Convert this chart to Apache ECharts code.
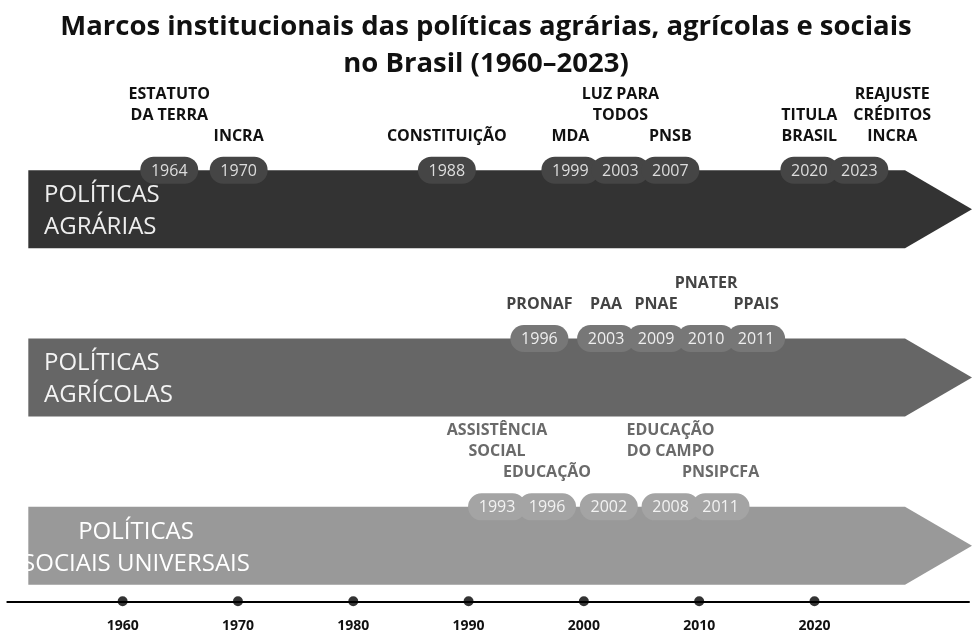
<!DOCTYPE html>
<html><head><meta charset="utf-8">
<script src="https://cdn.jsdelivr.net/npm/echarts@6/dist/echarts.min.js"></script>
<style>html,body{margin:0;padding:0;background:#fff}#c{width:972px;height:631px}</style>
</head><body><div id="c"></div>
<script>
// ---------- DATA ----------
const titleText = "Marcos institucionais das políticas agrárias, agrícolas e sociais\nno Brasil (1960–2023)";
const rowLabels = ["POLÍTICAS\nAGRÁRIAS", "POLÍTICAS\nAGRÍCOLAS", "POLÍTICAS\nSOCIAIS UNIVERSAIS"];

const agrariasYears = [1964, 1970, 1988, 1999, 2003, 2007, 2020, 2023];
const agrariasNames = ["ESTATUTO\nDA TERRA", "INCRA", "CONSTITUIÇÃO", "MDA", "LUZ PARA\nTODOS", "PNSB", "TITULA\nBRASIL", "REAJUSTE\nCRÉDITOS\nINCRA"];

const agricolasYears = [1996, 2003, 2009, 2010, 2011];
const agricolasNames = ["PRONAF", "PAA", "PNAE", "PNATER", "PPAIS"];

const sociaisYears = [1993, 1996, 2002, 2008, 2011];
const sociaisNames = ["ASSISTÊNCIA\nSOCIAL", "EDUCAÇÃO", "", "EDUCAÇÃO\nDO CAMPO", "PNSIPCFA"];

const axisYears = [1960, 1970, 1980, 1990, 2000, 2010, 2020];

// ---------- STYLE ----------
const FONT = "'Open Sans', sans-serif";
const arrowColors = ['#333333', '#666666', '#999999'];
const pillColors = ['#454545', '#777777', '#a4a4a4'];
const pillTextColors = ['#dddddd', '#eeeeee', '#f2f2f2'];
const nameColors = ['#111111', '#444444', '#6a6a6a'];
const rowTextColors = ['#eeeeee', '#f4f4f4', '#ffffff'];
const rowTextAlign = ['left', 'left', 'center'];
const ARROW_H = 78;
const PILL_W = 58, PILL_H = 27, PILL_SEP = 50;
const NAME_SIZE = 16, NAME_LH = 21, NAME_GAP = 10, NAME_VGAP = 0, NAME_PAD = 5, NAME_HPAD = 16;

const eventRows = [
  { years: agrariasYears, names: agrariasNames },
  { years: agricolasYears, names: agricolasNames },
  { years: sociaisYears, names: sociaisNames }
];

const measureCtx = document.createElement('canvas').getContext('2d');
function textWidth(str) {
  measureCtx.font = 'bold ' + NAME_SIZE + 'px ' + FONT;
  return Math.max.apply(null, str.split('\n').map(s => measureCtx.measureText(s).width));
}

// spread overlapping pills apart (keeps each group centred on its years)
function spread(xs, sep) {
  let groups = xs.map(x => ({ n: 1, sum: x }));
  const first = g => g.sum / g.n - (g.n - 1) * sep / 2;
  let changed = true;
  while (changed) {
    changed = false;
    for (let k = 0; k < groups.length - 1; k++) {
      const a = groups[k], b = groups[k + 1];
      if (first(a) + a.n * sep > first(b) + 0.01) {
        a.n += b.n; a.sum += b.sum; groups.splice(k + 1, 1); changed = true; break;
      }
    }
  }
  const out = [];
  groups.forEach(g => { const p = first(g); for (let j = 0; j < g.n; j++) out.push(p + j * sep); });
  return out;
}

function layoutRow(api, rowIdx) {
  const row = eventRows[rowIdx];
  const raw = row.years.map(y => api.coord([y, rowIdx]));
  const cy = raw[0][1];
  const bandH = api.size([0, 1])[1];
  const xs = spread(raw.map(p => p[0]), PILL_SEP);
  const base = cy - PILL_H / 2 - NAME_GAP;
  const prevArrowBottom = cy - bandH + ARROW_H;
  const limit = rowIdx === 0 ? cy - bandH / 2 - 12 : prevArrowBottom - 2;
  const boxes = row.names.map((n, i) => {
    const lines = n ? n.split('\n').length : 0;
    return { i, n, lines, w: n ? textWidth(n) : 0, h: lines * NAME_LH, cx: xs[i] };
  });
  const order = boxes.filter(b => b.n).sort((a, b) => a.lines - b.lines || a.cx - b.cx);
  const placed = [];
  order.forEach(b => {
    let l = b.cx - b.w / 2, r = b.cx + b.w / 2, bottom = base, guard = 0;
    while (guard++ < 60) {
      const top = bottom - b.h;
      const c = placed.find(p => l < p.r + NAME_PAD && p.l < r + NAME_PAD && top < p.bottom + NAME_VGAP && p.top < bottom + NAME_VGAP);
      if (!c) break;
      const nb = c.top - NAME_VGAP;
      if (nb - b.h < limit) {
        bottom = base;
        const s = c.r + NAME_HPAD - l; l += s; r += s;
      } else bottom = nb;
    }
    b.l = l; b.r = r; b.bottom = bottom; b.top = bottom - b.h;
    placed.push(b);
  });
  return { xs, cy, boxes };
}

function eventSeries(rowIdx) {
  return {
    type: 'custom',
    xAxisIndex: 0, yAxisIndex: 0,
    encode: { x: 0, y: 1 },
    data: eventRows[rowIdx].years.map(y => [y, rowIdx]),
    renderItem: function (params, api) {
      const L = layoutRow(api, rowIdx);
      const i = params.dataIndex;
      const x = L.xs[i], b = L.boxes[i];
      const children = [
        { type: 'rect', shape: { x: x - PILL_W / 2, y: L.cy - PILL_H / 2, width: PILL_W, height: PILL_H, r: PILL_H / 2 },
          style: { fill: pillColors[rowIdx] } },
        { type: 'text', style: { text: String(eventRows[rowIdx].years[i]), x: x, y: L.cy + 1, align: 'center', verticalAlign: 'middle',
          fontSize: 16, fontFamily: FONT, fill: pillTextColors[rowIdx] } }
      ];
      if (b.n) {
        children.push({ type: 'text', style: { text: b.n, x: (b.l + b.r) / 2, y: b.bottom, align: 'center', verticalAlign: 'bottom',
          fontSize: NAME_SIZE, fontWeight: 'bold', fontFamily: FONT, lineHeight: NAME_LH, fill: nameColors[rowIdx] } });
      }
      return { type: 'group', children };
    }
  };
}

const chart = echarts.init(document.getElementById('c'));
chart.setOption({
  animation: false,
  backgroundColor: '#ffffff',
  title: {
    text: titleText, left: 'center', top: 4,
    textStyle: { fontFamily: FONT, fontSize: 27.5, fontWeight: 'bold', color: '#111111', lineHeight: 37 }
  },
  grid: [
    { left: 7.33, right: 0, top: 86, bottom: 40 },
    { left: 7.33, right: 0, top: 601, height: 1 }
  ],
  xAxis: [
    { type: 'value', gridIndex: 0, min: 1950, max: 2033.4, show: false },
    { type: 'value', gridIndex: 1, min: 1950, max: 2033.4, interval: 10,
      axisLine: { show: true, lineStyle: { color: '#000000', width: 2 } },
      axisTick: { show: false }, splitLine: { show: false },
      axisLabel: { formatter: v => axisYears.indexOf(v) >= 0 ? String(v) : '', margin: 18,
        fontFamily: FONT, fontWeight: 'bold', fontSize: 14, color: '#111111', showMinLabel: true, showMaxLabel: true } }
  ],
  yAxis: [
    { type: 'category', gridIndex: 0, data: rowLabels, inverse: true, show: false },
    { type: 'value', gridIndex: 1, min: 0, max: 1, show: false }
  ],
  series: [
    {
      type: 'custom', xAxisIndex: 0, yAxisIndex: 0,
      encode: { y: 0 },
      data: rowLabels.map((_, i) => [i]),
      renderItem: function (params, api) {
        const i = params.dataIndex;
        const cs = params.coordSys;
        const top = api.coord([1950, i])[1];
        const bottom = top + ARROW_H;
        const mid = (top + bottom) / 2;
        const L = cs.x + 21, B = cs.x + cs.width - 67, T = cs.x + cs.width;
        const align = rowTextAlign[i];
        return {
          type: 'group', children: [
            { type: 'polygon', shape: { points: [[L, top], [B, top], [T, mid], [B, bottom], [L, bottom]] },
              style: { fill: arrowColors[i] } },
            { type: 'text', style: { text: rowLabels[i], x: align === 'left' ? 44 : 136, y: mid + 2, align: align, verticalAlign: 'middle',
              fontSize: 24, lineHeight: 32, fontFamily: FONT, fill: rowTextColors[i] } }
          ]
        };
      }
    },
    eventSeries(0), eventSeries(1), eventSeries(2),
    {
      type: 'scatter', xAxisIndex: 1, yAxisIndex: 1,
      data: axisYears.map(y => [y, 0]),
      symbolSize: 10, itemStyle: { color: '#000000' }, clip: false, z: 5
    }
  ]
});
</script></body></html>
